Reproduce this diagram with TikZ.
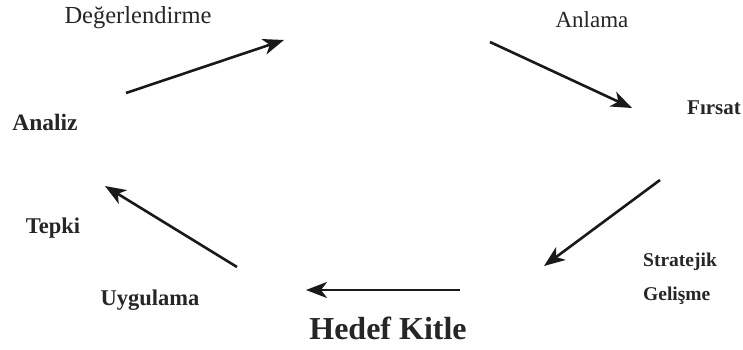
\documentclass[tikz,border=0pt]{standalone}
\usepackage{fontspec}
\setmainfont{Liberation Serif}
\usetikzlibrary{arrows.meta}
\begin{document}
\begin{tikzpicture}[x=1pt,y=-1pt,
  lbl/.style={inner sep=0pt, text=black!85},
  reg/.style={lbl, font=\fontsize{#1}{#1}\selectfont},
  bld/.style={lbl, font=\fontsize{#1}{#1}\selectfont\bfseries},
  flow/.style={line width=2.6pt, -{Stealth[length=21pt,width=16pt,inset=6pt]}, black!90}]
\useasboundingbox (0,0) rectangle (743,350);
\fill[white] (0,0) rectangle (743,350);
% labels
\node[reg=24.5] (deg) at (138,18) {Değerlendirme};
\node[reg=23] (anl) at (592,20) {Anlama};
\node[bld=23.5] (ana) at (45,122) {Analiz};
\node[bld=21] (fir) at (714,108) {Fırsat};
\node[bld=22.5] (tep) at (53,228) {Tepki};
\node[bld=22.5] (uyg) at (150,300) {Uygulama};
\node[bld=19.5, anchor=west] (str) at (643,262) {Stratejik};
\node[bld=19.5, anchor=west] (gel) at (643,296) {Gelişme};
\node[bld=32] (hed) at (388,328) {Hedef Kitle};
% arrow end points
\coordinate (a1s) at (126,93);  \coordinate (a1e) at (284,40);
\coordinate (a2s) at (490,42);  \coordinate (a2e) at (632,108);
\coordinate (a3s) at (660,180); \coordinate (a3e) at (544,266);
\coordinate (a4s) at (460,290); \coordinate (a4e) at (306,290);
\coordinate (a5s) at (237,267); \coordinate (a5e) at (105,186);
\draw[flow] (a1s) -- (a1e);
\draw[flow] (a2s) -- (a2e);
\draw[flow] (a3s) -- (a3e);
\draw[flow] (a4s) -- (a4e);
\draw[flow] (a5s) -- (a5e);
\end{tikzpicture}
\end{document}
